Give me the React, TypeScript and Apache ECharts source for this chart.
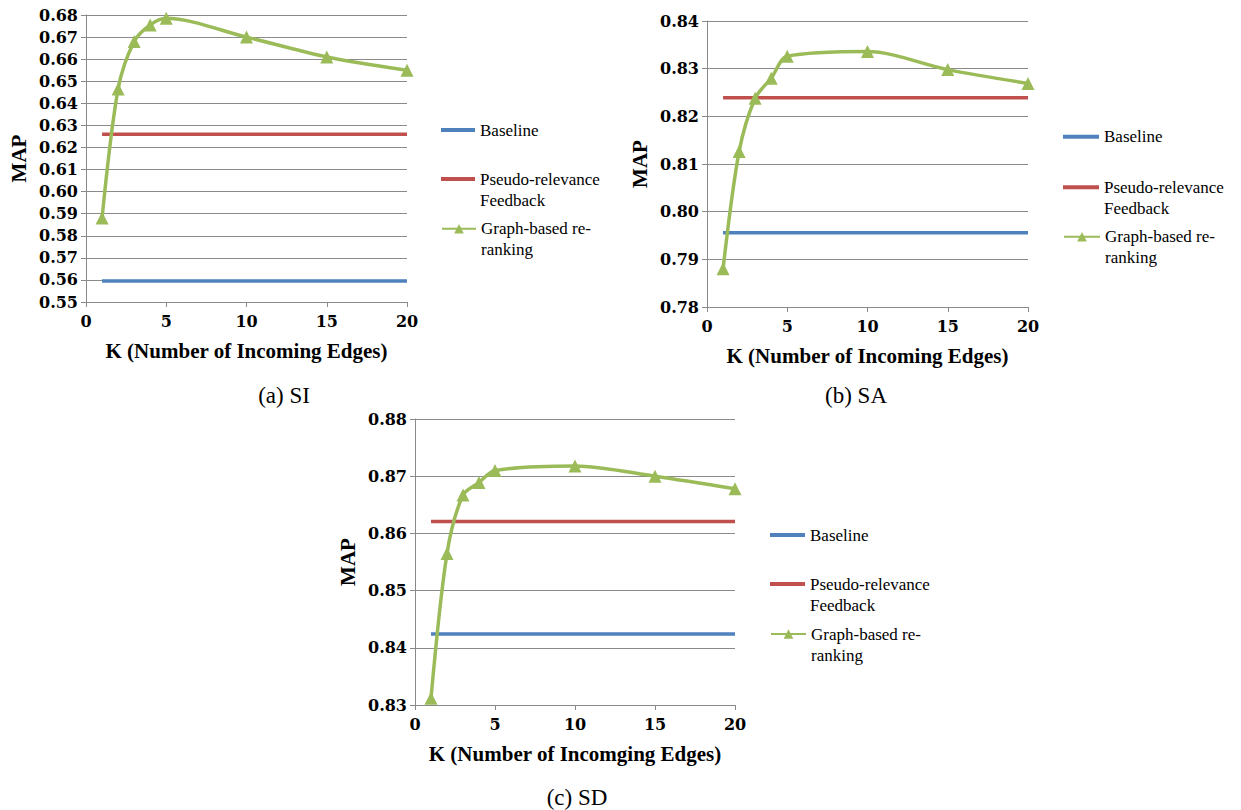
import React, { useEffect, useRef } from "react";
import * as echarts from "echarts";

const kValues = [1, 2, 3, 4, 5, 10, 15, 20];

const siGraph = [0.588, 0.6465, 0.668, 0.6755, 0.6785, 0.670, 0.661, 0.655];
const siBaseline = 0.5595;
const siPRF = 0.626;

const saGraph = [0.788, 0.8126, 0.8238, 0.828, 0.8326, 0.8336, 0.8298, 0.8269];
const saBaseline = 0.7956;
const saPRF = 0.8239;

const sdGraph = [0.8312, 0.8565, 0.8667, 0.8689, 0.871, 0.8718, 0.87, 0.8678];
const sdBaseline = 0.8424;
const sdPRF = 0.8621;

const seriesNames = ["Baseline", "Pseudo-relevance Feedback", "Graph-based re-ranking"];
const legendLabels = ["Baseline", "\nPseudo-relevance\nFeedback", "\nGraph-based re-\nranking"];
const panelTitles = ["(a) SI", "(b) SA", "(c) SD"];
const xAxisNames = [
  "K (Number of Incoming Edges)",
  "K (Number of Incoming Edges)",
  "K (Number of Incomging Edges)",
];
const yAxisName = "MAP";
const yRanges = [
  [0.55, 0.68],
  [0.78, 0.84],
  [0.83, 0.88],
];

const COLORS = ["#4F81BD", "#C0504D", "#9BBB59"];
const GRID_COLOR = "#8a8a8a";
const SERIF = "Liberation Serif, serif";
const WIDE_SERIF = "DejaVu Serif, serif";

const panels = [
  { graph: siGraph, base: siBaseline, prf: siPRF },
  { graph: saGraph, base: saBaseline, prf: saPRF },
  { graph: sdGraph, base: sdBaseline, prf: sdPRF },
];

// layout
const grids = [
  { left: 86, top: 15, width: 321, height: 287 },
  { left: 707, top: 21, width: 321, height: 286 },
  { left: 415, top: 419, width: 320, height: 286 },
];
const legendPos = [
  { left: 441, itemWidth: 34, centers: [130, 179, 228.7] },
  { left: 1063, itemWidth: 36, centers: [136.7, 187.3, 236.7] },
  { left: 770, itemWidth: 35, centers: [535, 584, 634] },
];
const titlePos = [
  { x: 284, y: 395 },
  { x: 856, y: 395 },
  { x: 577, y: 797 },
];
const LINE_H = 21;

export default function App() {
  const ref = useRef<HTMLDivElement>(null);

  useEffect(() => {
    if (!ref.current) return;
    const chart = echarts.init(ref.current, undefined, { renderer: "svg" });

    const xAxis: any[] = [];
    const yAxis: any[] = [];
    const series: any[] = [];
    const legend: any[] = [];
    const graphic: any[] = [];

    panels.forEach((p, i) => {
      xAxis.push({
        type: "value",
        gridIndex: i,
        min: 0,
        max: 20,
        interval: 5,
        name: xAxisNames[i],
        nameLocation: "middle",
        nameGap: 38,
        nameTextStyle: { fontFamily: SERIF, fontWeight: "bold", fontSize: 21, color: "#000" },
        axisLine: { show: true, lineStyle: { color: GRID_COLOR, width: 1 } },
        axisTick: { show: true, length: 5, lineStyle: { color: GRID_COLOR } },
        axisLabel: { margin: 11, fontFamily: WIDE_SERIF, fontWeight: "bold", fontSize: 16, color: "#000" },
        splitLine: { show: false },
      });
      yAxis.push({
        type: "value",
        gridIndex: i,
        min: yRanges[i][0],
        max: yRanges[i][1],
        interval: 0.01,
        name: yAxisName,
        nameLocation: "middle",
        nameGap: 57,
        nameRotate: 90,
        nameTextStyle: { fontFamily: SERIF, fontWeight: "bold", fontSize: 21, color: "#000" },
        axisLine: { show: true, lineStyle: { color: GRID_COLOR, width: 1 } },
        axisTick: { show: true, length: 5, lineStyle: { color: GRID_COLOR } },
        axisLabel: {
          margin: 8,
          fontFamily: WIDE_SERIF,
          fontWeight: "bold",
          fontSize: 16,
          color: "#000",
          formatter: (v: number) => v.toFixed(2),
        },
        splitLine: { show: true, lineStyle: { color: GRID_COLOR, width: 1 } },
      });

      series.push({
        name: seriesNames[0],
        type: "line",
        xAxisIndex: i,
        yAxisIndex: i,
        symbol: "none",
        data: kValues.map((k) => [k, p.base]),
        lineStyle: { color: COLORS[0], width: 3.5 },
        itemStyle: { color: COLORS[0] },
        z: 2,
      });
      series.push({
        name: seriesNames[1],
        type: "line",
        xAxisIndex: i,
        yAxisIndex: i,
        symbol: "none",
        data: kValues.map((k) => [k, p.prf]),
        lineStyle: { color: COLORS[1], width: 3.5 },
        itemStyle: { color: COLORS[1] },
        z: 2,
      });
      series.push({
        name: seriesNames[2],
        type: "line",
        xAxisIndex: i,
        yAxisIndex: i,
        smooth: 0.3,
        symbol: "triangle",
        symbolSize: 13,
        data: kValues.map((k, j) => [k, p.graph[j]]),
        lineStyle: { color: COLORS[2], width: 3.5 },
        itemStyle: { color: COLORS[2] },
        z: 3,
      });

      const lp = legendPos[i];
      seriesNames.forEach((name, j) => {
        const lines = j === 0 ? 1 : 3;
        const isLineOnly = j < 2;
        legend.push({
          data: [isLineOnly ? { name, icon: "rect" } : { name }],
          orient: "vertical",
          left: lp.left,
          top: lp.centers[j] - (lines * LINE_H) / 2,
          padding: 0,
          itemWidth: lp.itemWidth,
          itemHeight: isLineOnly ? 4 : 12,
          itemGap: 0,
          formatter: () => legendLabels[j],
          textStyle: {
            fontFamily: SERIF,
            fontSize: 17,
            lineHeight: LINE_H,
            color: "#000",
          },
        });
      });

      graphic.push({
        type: "text",
        x: titlePos[i].x,
        y: titlePos[i].y,
        style: {
          text: panelTitles[i],
          fill: "#000",
          font: `23px ${SERIF}`,
          align: "center",
          verticalAlign: "middle",
        },
      });
    });

    chart.setOption({
      animation: false,
      backgroundColor: "#fff",
      grid: grids.map((g) => ({ ...g, containLabel: false })),
      xAxis,
      yAxis,
      series,
      legend,
      graphic,
    });

    return () => chart.dispose();
  }, []);

  return (
    <div
      ref={ref}
      style={{ position: "fixed", left: 0, top: 0, width: 1241, height: 810, background: "#fff" }}
    />
  );
}
